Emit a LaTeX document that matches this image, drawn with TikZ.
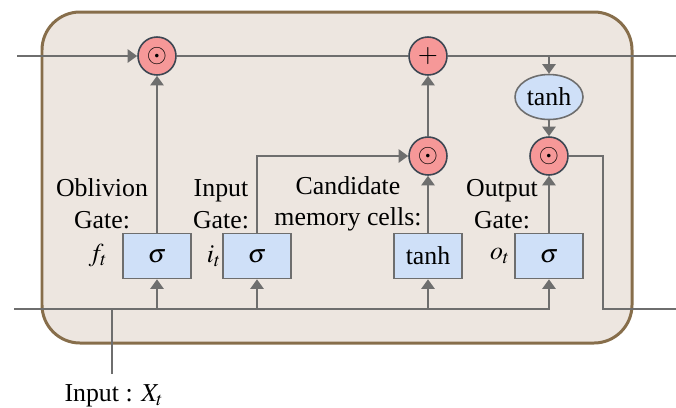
\documentclass[tikz,border=0pt]{standalone}
\usepackage{mathptmx}
\usepackage{fontspec}
\setmainfont{Liberation Serif}
\usetikzlibrary{arrows.meta,shapes.geometric}
\definecolor{cell-bg}{RGB}{237,230,224}
\definecolor{cell-edge}{RGB}{135,110,75}
\definecolor{wire-gray}{RGB}{110,110,110}
\definecolor{op-red}{RGB}{246,152,152}
\definecolor{op-edge}{RGB}{60,70,82}
\definecolor{gate-blue}{RGB}{207,224,248}
\tikzset{
	wire/.style={draw=wire-gray, line width=1.4pt},
	flow/.style={wire, -{Triangle[width=7.5pt,length=5.5pt]}},
	op/.style={circle, draw=op-edge, line width=0.9pt, fill=op-red, minimum size=0.76cm, inner sep=0pt},
	gate/.style={rectangle, draw=wire-gray, line width=0.9pt, fill=gate-blue, minimum width=1.36cm, minimum height=0.9cm, inner sep=0pt},
	squash/.style={ellipse, draw=wire-gray, line width=0.9pt, fill=gate-blue, minimum width=1.36cm, minimum height=0.9cm, inner sep=0pt},
	caption/.style={align=center, inner sep=0pt}
}

\begin{document}
\begin{tikzpicture}[x=0.02cm, y=-0.02cm, font=\fontsize{14.7}{18}\selectfont]
	\useasboundingbox (0,0) rectangle (676,407);

	%cell body
	\draw[cell-edge, line width=1.7pt, fill=cell-bg, rounded corners=0.76cm] (42,12) rectangle (632,343);

	%pointwise operations
	\node[op] (forget) at (157,56) {$\odot$};
	\node[op] (add) at (428,56) {$+$};
	\node[op] (cand-mul) at (428,156) {$\odot$};
	\node[op] (out-mul) at (549,156) {$\odot$};
	\node[squash] (tanh-c) at (549,97) {tanh};

	%gates
	\foreach \n/\x/\t in {f/157/$\sigma$, i/257/$\sigma$, c/428/tanh, o/549/$\sigma$}{
		\node[gate] (gate-\n) at (\x,256) {\t};
	}

	%gate captions
	\node[caption] (cap-f) at (102,204) {Oblivion\\Gate:};
	\node[caption] (cap-i) at (221,204) {Input\\Gate:};
	\node[caption] (cap-c) at (348,204) {Candidate\\memory cells:};
	\node[caption] (cap-o) at (502,204) {Output\\Gate:};
	\node (sym-f) at (98,256) {$f_t$};
	\node (sym-i) at (214,256) {$i_t$};
	\node (sym-o) at (500,256) {$o_t$};

	%cell state line
	\coordinate (c-in) at (17,56);
	\coordinate (c-out) at (676,56);
	\coordinate (c-tap) at (549,56);
	\draw[flow] (c-in) -- (forget);
	\draw[wire] (forget) -- (add) -- (c-out);
	\draw[flow] (c-tap) -- (tanh-c);
	\draw[flow] (tanh-c) -- (out-mul);

	%gate outputs
	\draw[flow] (gate-f) -- (forget);
	\draw[flow] (gate-i.north) |- (cand-mul);
	\draw[flow] (gate-c) -- (cand-mul);
	\draw[flow] (cand-mul) -- (add);
	\draw[flow] (gate-o) -- (out-mul);

	%hidden state out
	\coordinate (h-bend) at (603,309);
	\coordinate (h-out) at (676,309);
	\draw[wire] (out-mul) -| (h-bend) -- (h-out);

	%input line
	\coordinate (x-in) at (14,309);
	\coordinate (x-feed) at (112,374);
	\draw[flow] (x-in) -| (gate-o);
	\foreach \n in {f,i,c}{
		\draw[flow] (gate-\n |- x-in) -- (gate-\n);
	}
	\draw[wire] (x-feed) -- (x-feed |- x-in);
	\node (input-lbl) at (114,396) {Input : $X_t$};
\end{tikzpicture}
\end{document}
